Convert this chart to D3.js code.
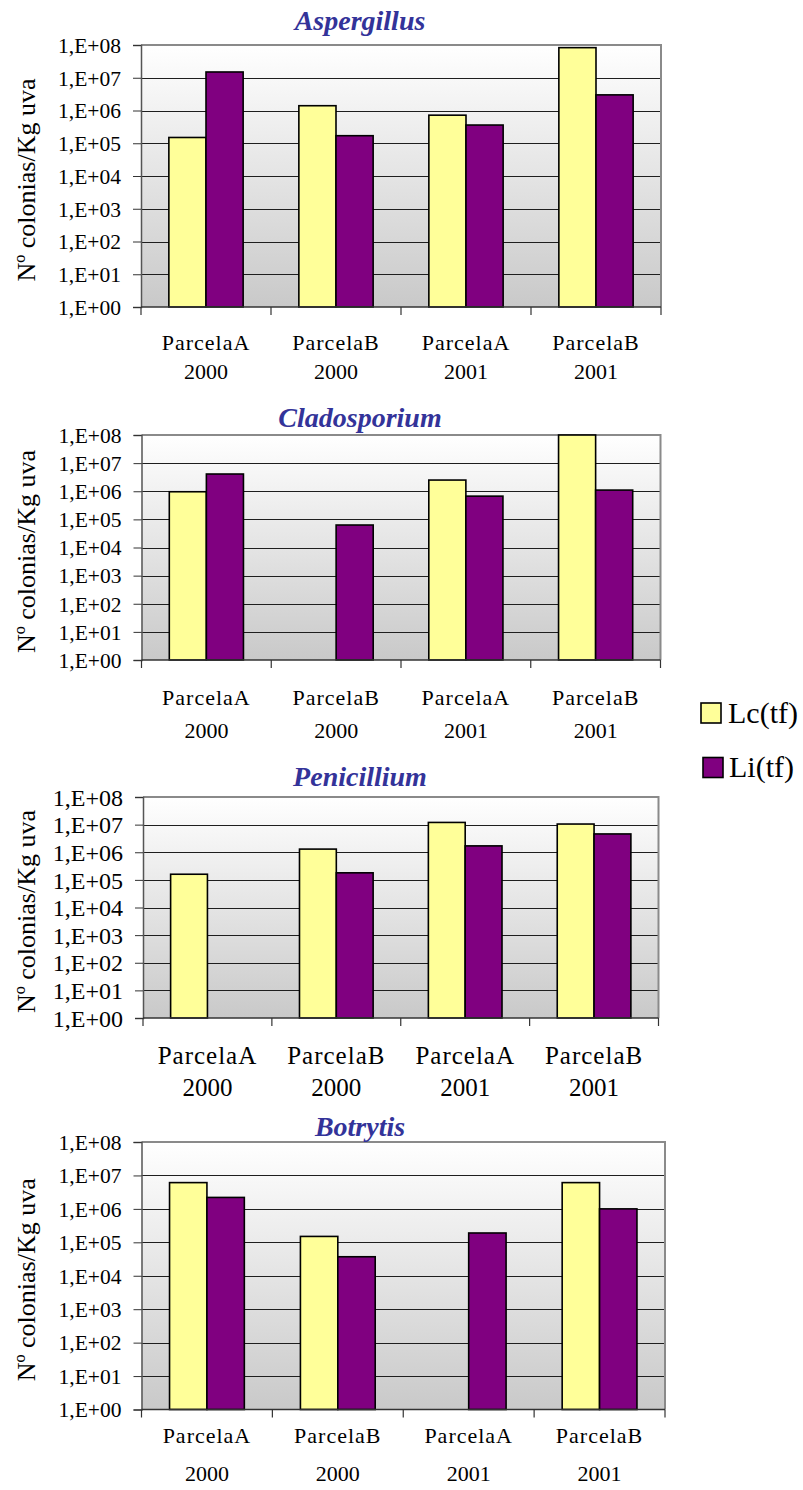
<!DOCTYPE html>
<html>
<head>
<meta charset="utf-8">
<script src="https://cdn.jsdelivr.net/npm/d3@7"></script>
<style>
  html, body { margin: 0; padding: 0; background: #fff; }
  svg { display: block; }
  text { font-family: "Liberation Serif", "Times New Roman", Times, "DejaVu Serif", serif; fill: #000; }
</style>
</head>
<body>
<svg id="chart" width="803" height="1490"></svg>
<script>
// Category labels (two lines each), series names and axis tick labels
const categories = ["ParcelaA 2000", "ParcelaB 2000", "ParcelaA 2001", "ParcelaB 2001"];
const categoryLines = [["ParcelaA", "2000"], ["ParcelaB", "2000"], ["ParcelaA", "2001"], ["ParcelaB", "2001"]];
const seriesNames = ["Lc(tf)", "Li(tf)"];
const seriesColors = ["#FFFF99", "#800080"];
const tickValues = [1, 1e1, 1e2, 1e3, 1e4, 1e5, 1e6, 1e7, 1e8];
const tickLabels = ["1,E+00", "1,E+01", "1,E+02", "1,E+03", "1,E+04", "1,E+05", "1,E+06", "1,E+07", "1,E+08"];
const yTitle = "Nº colonias/Kg uva";

// Colonies per kg of grape (null = no colonies recorded)
const aspergillusLc = [1.5e5, 1.4e6, 7.2e5, 8.3e7];
const aspergillusLi = [1.5e7, 1.7e5, 3.6e5, 3.0e6];
const cladosporiumLc = [9.6e5, null, 2.5e6, 1.0e8];
const cladosporiumLi = [4.1e6, 6.3e4, 6.7e5, 1.1e6];
const penicilliumLc = [1.6e5, 1.3e6, 1.2e7, 1.05e7];
const penicilliumLi = [null, 1.8e5, 1.7e6, 4.6e6];
const botrytisLc = [6.1e6, 1.5e5, null, 6.1e6];
const botrytisLi = [2.2e6, 3.7e4, 1.9e5, 1.0e6];

const FONT = '"Liberation Serif", "Times New Roman", Times, "DejaVu Serif", serif';

const panels = [
  { title: "Aspergillus", lc: aspergillusLc, li: aspergillusLi,
    left: 141, right: 661, top: 45, bottom: 307, titleY: 30, tickFont: 21.5, catFont: 22, lab1: 43, lab2: 71.5 },
  { title: "Cladosporium", lc: cladosporiumLc, li: cladosporiumLi,
    left: 141.5, right: 660.5, top: 435, bottom: 660, titleY: 427, tickFont: 21.5, catFont: 22, lab1: 45, lab2: 78 },
  { title: "Penicillium", lc: penicilliumLc, li: penicilliumLi,
    left: 143, right: 658.5, top: 797, bottom: 1018, titleY: 786, tickFont: 24, catFont: 25, lab1: 46, lab2: 78 },
  { title: "Botrytis", lc: botrytisLc, li: botrytisLi,
    left: 141.5, right: 665, top: 1142, bottom: 1409.5, titleY: 1136, tickFont: 21.5, catFont: 22, lab1: 33, lab2: 71 }
];

const svg = d3.select("#chart");

// Plot-area background: white at the top fading to light grey at the bottom
const grad = svg.append("defs").append("linearGradient")
  .attr("id", "plotBg").attr("x1", 0).attr("y1", 0).attr("x2", 0).attr("y2", 1);
grad.append("stop").attr("offset", "0%").attr("stop-color", "#ffffff");
grad.append("stop").attr("offset", "100%").attr("stop-color", "#c9c9c9");

panels.forEach(p => {
  const g = svg.append("g");
  const x = d3.scaleBand().domain(categories).range([p.left, p.right]).paddingInner(0).paddingOuter(0);
  const xs = d3.scaleBand().domain(seriesNames).range([0, x.bandwidth()]).paddingInner(0).paddingOuter(0.75);
  const y = d3.scaleLog().domain([1, 1e8]).range([p.bottom, p.top]);

  // background
  g.append("rect")
    .attr("x", p.left).attr("y", p.top)
    .attr("width", p.right - p.left).attr("height", p.bottom - p.top)
    .attr("fill", "url(#plotBg)");

  // horizontal gridlines
  g.selectAll(".grid").data(tickValues.slice(1, -1)).join("line")
    .attr("x1", p.left).attr("x2", p.right)
    .attr("y1", d => Math.round(y(d)) + 0.5).attr("y2", d => Math.round(y(d)) + 0.5)
    .attr("stroke", "#1e1e1e").attr("stroke-width", 1);

  // top and right border
  g.append("path")
    .attr("d", `M${p.left},${p.top}H${p.right}V${p.bottom}`)
    .attr("fill", "none").attr("stroke", "#8a8a8a").attr("stroke-width", 2);

  // bars
  const rows = categories.map((c, i) => ({ cat: c, vals: [p.lc[i], p.li[i]] }));
  rows.forEach(r => {
    r.vals.forEach((v, si) => {
      if (v == null) return;
      g.append("rect")
        .attr("x", x(r.cat) + xs(seriesNames[si]))
        .attr("y", y(v))
        .attr("width", xs.bandwidth())
        .attr("height", y(1) - y(v))
        .attr("fill", seriesColors[si])
        .attr("stroke", "#000").attr("stroke-width", 1.6);
    });
  });

  // y axis
  const yAxis = d3.axisLeft(y)
    .tickValues(tickValues)
    .tickFormat((d, i) => tickLabels[i])
    .tickSize(8).tickPadding(12);
  const ya = g.append("g").attr("transform", `translate(${p.left},0)`).call(yAxis);
  ya.attr("font-family", FONT);
  ya.select(".domain").attr("stroke", "#555").attr("stroke-width", 1.5);
  ya.selectAll(".tick line").attr("stroke", "#333");
  ya.selectAll(".tick text")
    .attr("font-size", p.tickFont).attr("fill", "#000").attr("dy", "0.34em");

  // x axis line and category boundary ticks
  g.append("line").attr("x1", p.left).attr("x2", p.right)
    .attr("y1", p.bottom).attr("y2", p.bottom)
    .attr("stroke", "#333").attr("stroke-width", 1.5);
  const bounds = categories.map(c => x(c)).concat([p.right]);
  g.selectAll(".xtick").data(bounds).join("line")
    .attr("x1", d => d).attr("x2", d => d)
    .attr("y1", p.bottom).attr("y2", p.bottom + 8)
    .attr("stroke", "#333").attr("stroke-width", 1.2);

  // category labels
  categories.forEach((c, i) => {
    const cx = x(c) + x.bandwidth() / 2;
    const t = g.append("text").attr("text-anchor", "middle").attr("font-size", p.catFont);
    t.append("tspan").attr("x", cx).attr("y", p.bottom + p.lab1)
      .attr("letter-spacing", "1px").text(categoryLines[i][0]);
    t.append("tspan").attr("x", cx).attr("y", p.bottom + p.lab2).text(categoryLines[i][1]);
  });

  // y-axis title
  const cy = (p.top + p.bottom) / 2 + 4;
  g.append("text")
    .attr("transform", `translate(35,${cy}) rotate(-90)`)
    .attr("text-anchor", "middle").attr("font-size", 26)
    .text(yTitle);

  // panel title
  g.append("text")
    .attr("x", 360).attr("y", p.titleY)
    .attr("text-anchor", "middle")
    .attr("font-size", 28).attr("font-weight", "bold").attr("font-style", "italic")
    .style("fill", "#333399")
    .text(p.title);
});

// legend
const legend = svg.append("g");
const legendRows = [
  { name: seriesNames[0], color: seriesColors[0], sx: 701, sy: 703, tx: 728, ty: 723 },
  { name: seriesNames[1], color: seriesColors[1], sx: 703, sy: 757.5, tx: 729, ty: 777 }
];
legendRows.forEach(r => {
  legend.append("rect").attr("x", r.sx).attr("y", r.sy).attr("width", 20).attr("height", 20)
    .attr("fill", r.color).attr("stroke", "#000").attr("stroke-width", 1.6);
  legend.append("text").attr("x", r.tx).attr("y", r.ty).attr("font-size", 30).text(r.name);
});
</script>
</body>
</html>
